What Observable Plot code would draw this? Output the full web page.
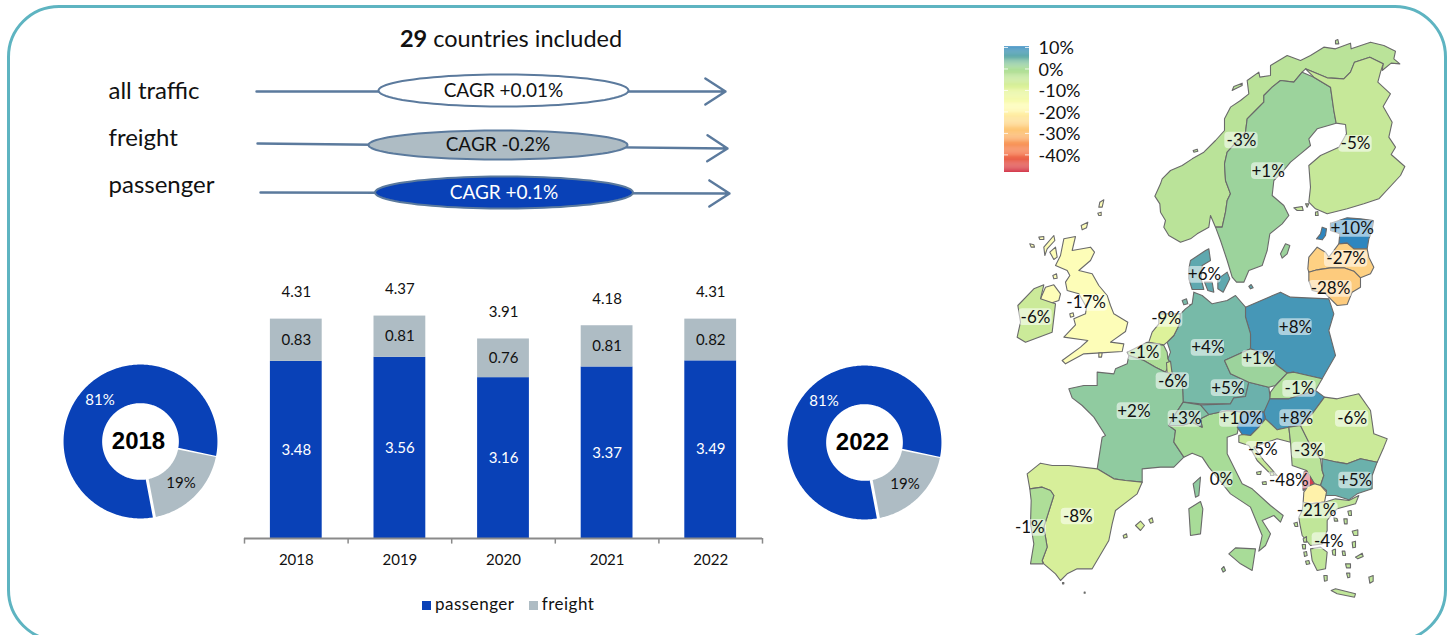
<!DOCTYPE html>
<html>
<head>
<meta charset="utf-8">
<script src="https://cdn.jsdelivr.net/npm/d3@7"></script>
<script src="https://cdn.jsdelivr.net/npm/@observablehq/plot@0.6"></script>
<style>
html,body{margin:0;padding:0;background:#fff;overflow:hidden}
#page{position:relative;width:1453px;height:635px;overflow:hidden;font-family:Lato,sans-serif;color:#111}
#frame{position:absolute;left:7px;top:5px;width:1440px;height:637px;border:3px solid #5eb4c1;border-radius:52px;box-sizing:border-box}
#title{position:absolute;left:311px;width:400px;top:25px;text-align:center;font-size:23.5px;line-height:26px}
#legend{position:absolute;left:422px;top:594px;font-size:17px;line-height:20px;white-space:nowrap;letter-spacing:.5px}
#legend i{display:inline-block;width:9px;height:9px;margin-right:4px}
</style>
</head>
<body>
<div id="page">
<div id="frame"></div>
<div id="title"><b>29</b> countries included</div>
<div id="legend"><i style="background:#0941b7"></i>passenger&nbsp;&nbsp;&nbsp;<i style="background:#aebcc4"></i>freight</div>
</div>
<script>
// ---- data ----
const years = ["2018","2019","2020","2021","2022"];
const passenger = [3.48,3.56,3.16,3.37,3.49];
const freight = [0.83,0.81,0.76,0.81,0.82];
const totals = [4.31,4.37,3.91,4.18,4.31];
const flowNames = ["all traffic","freight","passenger"];
const flowCagr = ["CAGR +0.01%","CAGR -0.2%","CAGR +0.1%"];
const donutYears = ["2018","2022"];
const donutPassenger = [81,81];
const donutFreight = [19,19];
const legendTicks = [10,0,-10,-20,-30,-40];
const BLUE="#0941b7", GREY="#aebcc4", LINE="#5b7a9d";

// country change in %, label text
const change = {NO:-3,SE:1,FI:-5,EE:10,DK:6,LV:-27,LT:-28,UK:-17,IE:-6,NL:-9,PL:8,DE:4,CZ:1,BE:-1,LU:-6,AT:5,SK:-1,FR:2,CH:3,SI:10,HU:8,RO:-6,HR:-5,RS:-3,AL:-48,BG:5,IT:0,MK:-21,ES:-8,PT:-1,GR:-4};
// label anchors in map units
const labelSpots = [["NO",723,330],["SE",803,422],["FI",1065,340],["EE",1055,595],["DK",612,733],["LV",1037,685],["LT",990,775],["UK",257,817],["IE",105,860],["NL",497,865],["PL",885,890],["DE",622,952],["CZ",775,985],["BE",432,965],["LU",517,1052],["AT",682,1073],["SK",897,1075],["FR",400,1142],["CH",553,1165],["SI",722,1165],["HU",888,1163],["RO",1055,1165],["HR",787,1258],["RS",925,1260],["AL",865,1350],["BG",1065,1350],["IT",663,1347],["MK",948,1440],["ES",232,1458],["PT",88,1492],["GR",985,1532]];

// outlines in map units (north part)
const shapesNorth = [
["NO",[[540,635],[505,615],[490,590],[495,570],[480,545],[478,520],[463,497],[480,460],[485,445],[510,420],[545,405],[575,385],[610,365],[645,330],[672,300],[672,265],[690,230],[720,210],[745,190],[740,150],[775,125],[778,140],[810,135],[810,105],[860,75],[900,90],[930,75],[970,50],[1005,55],[1050,38],[1052,55],[1110,35],[1150,45],[1185,62],[1180,85],[1198,100],[1172,98],[1145,120],[1148,100],[1108,80],[1062,95],[1050,125],[1030,145],[980,142],[915,115],[905,125],[880,155],[840,150],[815,170],[790,195],[790,215],[765,240],[740,265],[735,305],[680,365],[672,400],[675,450],[690,490],[680,510],[675,545],[665,590],[645,590],[630,555],[625,590],[590,610],[570,625]]],
["NO",[[695,180],[700,168],[725,158],[725,165],[705,175]]],
["NO",[[578,360],[590,356],[592,362],[580,365]]],
["NO",[[1005,30],[1012,27],[1015,40],[1005,40]]],
["SE",[[905,125],[880,155],[840,150],[815,170],[790,195],[790,215],[765,240],[740,265],[735,305],[680,365],[672,400],[675,450],[690,490],[680,510],[675,545],[665,590],[645,590],[660,630],[680,690],[695,740],[708,755],[730,755],[745,720],[785,705],[800,660],[808,610],[845,580],[865,555],[850,525],[815,495],[820,450],[845,425],[870,395],[900,370],[930,345],[925,325],[950,295],[1007,278],[1000,240],[990,170],[940,140]]],
["SE",[[840,670],[855,640],[868,645],[860,670],[845,683]]],
["FI",[[915,115],[980,142],[1030,145],[1050,125],[1062,95],[1108,80],[1148,100],[1140,125],[1132,155],[1170,190],[1148,228],[1175,275],[1165,320],[1185,350],[1172,372],[1213,408],[1200,435],[1135,505],[1090,520],[1040,535],[980,550],[945,535],[925,515],[930,470],[925,405],[960,375],[1015,350],[1038,310],[1035,282],[1007,278],[1000,240],[990,170],[940,140]]],
["FI",[[880,532],[905,528],[908,540],[890,540]]],
["FI",[[915,520],[925,520],[920,530]]],
["FI",[[945,545],[952,543],[953,555],[945,555]]],
["EE",[[990,578],[1040,562],[1080,565],[1118,570],[1115,600],[1105,625],[1100,655],[1060,655],[1040,638],[1015,640],[1018,610],[990,600]]],
["EE",[[948,625],[960,610],[965,590],[978,595],[975,615],[965,628]]],
["LV",[[922,715],[925,680],[950,650],[975,665],[985,680],[1015,640],[1040,638],[1060,655],[1100,655],[1105,680],[1120,710],[1110,730],[1080,742],[1060,722],[1030,712],[990,712],[950,718],[925,725]]],
["LT",[[925,725],[950,718],[990,712],[1030,712],[1060,722],[1080,742],[1080,770],[1055,785],[1040,822],[1010,825],[990,805],[975,790],[935,780],[925,750]]],
["DK",[[565,715],[570,690],[615,660],[625,655],[630,690],[605,705],[602,745],[610,777],[575,777],[565,745]]],
["DK",[[612,755],[635,755],[640,785],[622,780]]],
["DK",[[652,745],[680,725],[688,745],[668,785],[652,775]]],
["DK",[[745,768],[752,762],[758,772],[750,775]]],
["UK",[[190,625],[225,618],[215,660],[270,650],[282,665],[270,690],[235,720],[275,730],[295,765],[320,795],[330,825],[340,850],[382,875],[375,903],[330,935],[370,940],[365,963],[300,967],[250,970],[195,1000],[185,990],[240,950],[262,930],[190,920],[225,883],[220,865],[255,850],[258,830],[235,790],[200,780],[195,755],[208,735],[200,720],[165,705],[180,675]]],
["UK",[[120,805],[135,770],[160,763],[180,790],[175,810],[155,817],[130,813]]],
["UK",[[130,650],[160,615],[163,630],[140,655],[133,675]]],
["UK",[[148,665],[165,650],[170,680],[160,687]]],
["UK",[[88,640],[100,643],[102,650],[92,650]]],
["UK",[[115,620],[130,618],[130,627],[118,627]]],
["UK",[[298,515],[310,508],[305,530],[295,530]]],
["UK",[[292,548],[302,545],[302,555],[295,555]]],
["UK",[[242,585],[262,575],[258,592],[245,598]]],
["UK",[[157,735],[168,730],[170,743],[160,745]]],
["UK",[[208,850],[218,847],[220,857],[210,860]]],
["UK",[[295,967],[305,967],[303,980],[295,980]]],
["IE",[[52,825],[100,775],[130,763],[120,805],[155,817],[165,820],[155,905],[75,935],[50,920],[60,875]]],
["DE",[[545,810],[558,805],[562,820],[550,823]]],
["DE",[[568,823],[578,820],[575,840],[568,835]]],
];
// outlines in map units (south part)
const shapesSouth = [
["PL",[[735,-10],[840,-55],[870,-40],[985,-35],[1000,10],[985,60],[1005,135],[965,205],[880,185],[860,188],[830,165],[800,135],[750,115],[750,70],[735,20]]],
["DE",[[580,-55],[605,-45],[635,-20],[680,-30],[705,-45],[735,-10],[735,20],[750,70],[750,115],[672,150],[690,190],[745,215],[735,258],[700,262],[690,280],[600,280],[548,275],[545,200],[515,190],[508,157],[502,145],[510,125],[500,95],[520,75],[535,45],[540,10],[555,-5],[575,-20]]],
["NL",[[475,10],[540,10],[535,45],[520,75],[500,95],[490,103],[445,95],[455,65],[475,40]]],
["BE",[[380,125],[440,95],[490,105],[500,125],[502,145],[508,157],[495,185],[465,170],[430,150],[385,135]]],
["LU",[[498,157],[510,152],[515,190],[500,190]]],
["FR",[[205,235],[250,225],[290,225],[290,185],[340,190],[345,175],[380,160],[385,135],[430,150],[465,170],[495,185],[515,190],[545,200],[548,275],[525,310],[505,345],[525,360],[520,395],[550,440],[520,470],[480,470],[425,475],[425,515],[375,510],[340,505],[290,475],[305,380],[315,375],[280,320],[245,285],[215,262]]],
["FR",[[578,520],[600,500],[595,555],[585,560]]],
["ES",[[80,490],[120,458],[155,465],[205,465],[290,475],[340,505],[375,510],[425,515],[410,550],[345,600],[335,640],[325,690],[275,775],[230,775],[200,790],[180,810],[165,790],[130,760],[125,750],[140,710],[130,650],[160,555],[150,540],[125,530],[88,535]]],
["ES",[[405,645],[420,632],[432,645],[420,660]]],
["ES",[[445,628],[455,622],[458,635],[450,638]]],
["ES",[[368,675],[378,670],[380,680],[370,683]]],
["ES",[[186,816],[190,816],[190,820],[186,820]]],
["ES",[[251,845],[254,845],[254,848],[251,848]]],
["PT",[[88,535],[125,530],[150,540],[160,555],[130,650],[140,710],[125,750],[128,760],[90,760],[100,700],[90,640],[92,570]]],
["IT",[[525,360],[505,345],[545,345],[575,335],[605,350],[600,325],[625,312],[680,300],[730,305],[715,345],[710,370],[680,380],[680,430],[705,480],[725,520],[755,535],[810,585],[848,615],[840,635],[820,615],[785,630],[810,670],[795,705],[775,722],[785,675],[750,590],[690,550],[625,470],[605,440],[575,428],[550,440],[520,395]]],
["IT",[[565,595],[600,573],[607,595],[600,670],[570,675]]],
["IT",[[685,730],[705,712],[765,715],[755,780],[720,760]]],
["IT",[[663,775],[670,768],[675,780],[668,785]]],
["CH",[[505,345],[525,310],[548,275],[600,283],[625,312],[600,325],[605,350],[575,335],[545,345],[525,345]]],
["AT",[[600,283],[690,280],[700,262],[735,258],[745,215],[805,230],[810,270],[790,305],[730,305],[680,300],[625,312]]],
["CZ",[[672,150],[750,115],[800,135],[830,165],[860,188],[825,225],[805,230],[745,215],[690,190]]],
["SK",[[810,245],[825,225],[860,188],[880,185],[965,205],[945,240],[865,265],[808,265]]],
["HU",[[790,305],[808,265],[865,265],[945,240],[972,260],[935,310],[900,345],[865,350],[830,358],[795,325]]],
["SI",[[710,350],[730,305],[790,305],[795,325],[775,350],[750,375],[725,372]]],
["HR",[[715,375],[725,372],[750,375],[775,350],[795,325],[830,358],[865,350],[870,395],[830,385],[800,395],[760,410],[790,450],[830,495],[810,490],[770,450],[745,405],[715,395]]],
["RS",[[865,350],[900,345],[925,395],[960,445],[965,480],[970,495],[960,525],[942,520],[918,480],[875,465],[870,395]]],
["RO",[[972,260],[1010,265],[1075,250],[1110,300],[1120,370],[1160,385],[1150,410],[1130,455],[1080,445],[1040,460],[1010,455],[960,445],[925,395],[900,345],[935,310]]],
["BG",[[965,445],[1010,455],[1040,460],[1080,445],[1130,455],[1115,495],[1115,535],[1070,550],[1045,568],[1005,555],[975,555],[978,540],[960,525],[970,495],[965,480]]],
["AL",[[910,485],[918,480],[930,500],[942,520],[922,528],[908,540],[905,515]]],
["MK",[[922,528],[942,520],[960,525],[978,545],[972,575],[930,580],[908,575],[910,545]]],
["GR",[[908,575],[930,580],[972,575],[1005,565],[1045,570],[1075,555],[1065,580],[1035,588],[1010,595],[995,610],[980,630],[980,660],[965,700],[930,705],[905,675],[898,640],[895,620],[905,600]]],
["GR",[[930,715],[960,710],[980,725],[975,775],[950,780],[935,750]]],
["GR",[[992,840],[1005,835],[1065,850],[1062,860],[1010,850]]],
];
// small islands, Aegean and Adriatic
const shapesIslands = [
["GR",[[220,308],[230,305],[232,318],[224,318]]],
["GR",[[248,355],[258,348],[258,365],[250,365]]],
["GR",[[245,372],[255,372],[255,385],[247,385]]],
["GR",[[250,395],[258,393],[260,405],[252,408]]],
["GR",[[255,422],[265,420],[268,430],[258,432]]],
["GR",[[310,465],[320,465],[320,480],[312,482]]],
["GR",[[375,430],[390,430],[390,442],[378,442]]],
["GR",[[378,458],[388,458],[388,470],[382,472]]],
["GR",[[405,410],[425,398],[428,408],[412,415]]],
["GR",[[395,365],[405,362],[405,380],[397,382]]],
["GR",[[395,332],[412,328],[412,345],[400,345]]],
["GR",[[370,295],[380,295],[380,310],[372,310]]],
["GR",[[382,272],[392,270],[393,285],[385,285]]],
["GR",[[340,290],[350,295],[352,302],[342,302]]],
["GR",[[445,470],[458,465],[458,482],[448,488]]],
["GR",[[365,392],[373,392],[375,405],[367,405]]],
["GR",[[335,390],[345,385],[345,405],[337,403]]],
["HR",[[108,155],[122,152],[120,162],[110,162]]],
["HR",[[125,185],[137,183],[138,192],[127,192]]],
["HR",[[150,155],[158,155],[160,165],[150,165]]],
];

// ---- helpers ----
const page = document.getElementById("page");
const place = (svg,left,top)=>{svg.style.position="absolute";svg.style.left=left+"px";svg.style.top=top+"px";svg.style.background="transparent";svg.style.overflow="visible";svg.style.maxWidth="none";page.appendChild(svg);};
const FONT="Lato, sans-serif";

// ---- CAGR arrows ----
const flowLayout = [
 {x1:256,y1:91,x2:725,y2:91,cx:503,cy:90,rx:125,ry:16,fill:"#ffffff",ink:"#111111",nameY:91},
 {x1:257,y1:143,x2:727,y2:148,cx:497.5,cy:144.5,rx:129.5,ry:14.5,fill:GREY,ink:"#111111",nameY:138},
 {x1:260,y1:192,x2:729,y2:193,cx:503.5,cy:192,rx:129,ry:16,fill:BLUE,ink:"#ffffff",nameY:185}
];
const flowRows = flowLayout.map((d,i)=>({...d,name:flowNames[i],cagr:flowCagr[i]}));
const ellipsePts = flowRows.flatMap((d,i)=>d3.range(0,361,4).map(a=>({i,fill:d.fill,x:d.cx+d.rx*Math.cos(a*Math.PI/180),y:d.cy+d.ry*Math.sin(a*Math.PI/180)})));
place(Plot.plot({
  width:800,height:230,margin:0,style:{fontFamily:FONT},
  x:{domain:[0,800],axis:null},y:{domain:[0,230],range:[0,230],axis:null},
  marks:[
    Plot.arrow(flowRows,{x1:"x1",y1:"y1",x2:"x2",y2:"y2",stroke:LINE,strokeWidth:2.4,headLength:15,headAngle:66}),
    Plot.line(ellipsePts,{x:"x",y:"y",z:"i",fill:"fill",stroke:LINE,strokeWidth:2}),
    Plot.text(flowRows,{x:"cx",y:"cy",text:"cagr",fill:"ink",fontSize:19}),
    Plot.text(flowRows,{x:()=>108,y:"nameY",text:"name",textAnchor:"start",fontSize:24,fill:"#111"})
  ]
}),0,0);

// ---- stacked bars ----
const barTable = years.flatMap((y,i)=>[
  {year:y,series:"passenger",value:passenger[i],ink:"#ffffff"},
  {year:y,series:"freight",value:freight[i],ink:"#111111"}]);
const totalTable = years.map((y,i)=>({year:y,total:totals[i]}));
const barW=518, step=barW/years.length;
place(Plot.plot({
  width:barW,height:305,marginLeft:0,marginRight:0,marginTop:0,marginBottom:37,style:{fontFamily:FONT},
  x:{domain:years,paddingInner:.5,paddingOuter:.25,round:false,label:null},
  y:{domain:[0,268/50.9],axis:null},
  color:{domain:["passenger","freight"],range:[BLUE,GREY]},
  marks:[
    Plot.barY(barTable,{x:"year",y:"value",fill:"series"}),
    Plot.text(barTable,Plot.stackY({x:"year",y:"value",text:d=>d.value.toFixed(2),fill:"ink",fontSize:15})),
    Plot.text(totalTable,{x:"year",y:"total",text:d=>d.total.toFixed(2),dy:-27,fontSize:15,fill:"#111"}),
    Plot.ruleY([0],{stroke:"#8a8a8a",strokeWidth:2}),
    Plot.ruleX(years,{x:d=>d,dx:-step/2,y1:0,y2:-0.11,stroke:"#8a8a8a",strokeWidth:1.5}),
    Plot.ruleX(years.slice(-1),{x:d=>d,dx:step/2,y1:0,y2:-0.11,stroke:"#8a8a8a",strokeWidth:1.5}),
    Plot.axisX({tickSize:0,tickPadding:16,fontSize:15,label:null,fill:"#111"})
  ]
}),244,270);

// ---- donuts ----
const START=170, INNER=.47;
function ring(a0,a1,key,fill){
  const pts=[]; const rad=a=>a*Math.PI/180;
  for(const a of d3.range(a0,a1+.5,1)) pts.push({key,fill,x:Math.sin(rad(a)),y:Math.cos(rad(a))});
  for(const a of d3.range(a1,a0-.5,-1)) pts.push({key,fill,x:INNER*Math.sin(rad(a)),y:INNER*Math.cos(rad(a))});
  return pts;
}
function donut(i,left,top){
  const p=donutPassenger[i],f=donutFreight[i],T=p+f;
  const pa=p/T*360, fa=f/T*360;
  const slices=[...ring(START,START+pa,"p",BLUE),...ring(START+pa,START+pa+fa,"f",GREY)];
  const mid=[{a:START+pa/2,t:p+"%",ink:"#fff"},{a:START+pa+fa/2,t:f+"%",ink:"#111"}]
    .map(d=>({...d,x:.74*Math.sin(d.a*Math.PI/180),y:.74*Math.cos(d.a*Math.PI/180)}));
  place(Plot.plot({
    width:160,height:160,margin:0,style:{fontFamily:FONT},
    x:{domain:[-1.02,1.02],axis:null},y:{domain:[-1.02,1.02],axis:null},
    marks:[
      Plot.line(slices,{x:"x",y:"y",z:"key",fill:"fill",stroke:"#fff",strokeWidth:3}),
      Plot.text(mid,{x:"x",y:"y",text:"t",fill:"ink",fontSize:15}),
      Plot.text([donutYears[i]],{x:()=>0,y:()=>0,text:d=>d,fontSize:24,fontWeight:"bold",fontFamily:"Liberation Sans",fill:"#000",dx:-2})
    ]
  }),left,top);
}
donut(0,60,361);
donut(1,783.5,362);

// ---- map ----
const toRows=(list,dx,dy,tag)=>list.flatMap(([c,pts],k)=>pts.concat([pts[0]]).map(([x,y])=>({id:tag+k,c,v:change[c],x:x+dx,y:y+dy})));
const mapRows=[...toRows(shapesNorth,0,0,"n"),...toRows(shapesSouth,0,840,"s"),...toRows(shapesIslands,660,1170,"i")];
const labels=labelSpots.map(([c,x,y])=>{const v=change[c];const t=(v>0?"+":"")+v+"%";const w=(10+30*t.length)/2;return {t,x,y,x1:x-w,x2:x+w,y1:y-25,y2:y+25};});
const colorScale={type:"linear",domain:[-48,-40,-30,-20,-17,-10,0,10],range:["#d53e4f","#f4734a","#fdc070","#fff7b0","#fdfdb8","#e3f49a","#a8dc98","#2e86bf"],clamp:true};
place(Plot.plot({
  width:410,height:600,margin:0,style:{fontFamily:FONT},
  x:{domain:[0,1230],axis:null},y:{domain:[0,1800],range:[0,600],axis:null},
  color:colorScale,
  marks:[
    Plot.line(mapRows,{x:"x",y:"y",z:"id",fill:"v",stroke:"#6a6a6a",strokeWidth:1.1,strokeLinejoin:"round"}),
    Plot.rect(labels,{x1:"x1",x2:"x2",y1:"y1",y2:"y2",fill:"#fff",fillOpacity:.55,rx:4}),
    Plot.text(labels,{x:"x",y:"y",text:"t",fontSize:17,fill:"#111"})
  ]
}),1000,30);

// ---- colour legend ----
const legendSteps=d3.range(-48.2,10,.5);
place(Plot.plot({
  width:100,height:125,margin:0,marginRight:75,style:{fontFamily:FONT},
  x:{domain:[0,1],axis:null},y:{domain:[-48.2,10],axis:null},
  color:colorScale,
  marks:[
    Plot.rect(legendSteps,{x1:()=>0,x2:()=>1,y1:d=>d,y2:d=>d+.55,fill:d=>d}),
    Plot.ruleY(legendTicks,{x1:()=>0,x2:()=>.16,y:d=>d,stroke:"#fff",strokeOpacity:.8}),
    Plot.ruleY(legendTicks,{x1:()=>.84,x2:()=>1,y:d=>d,stroke:"#fff",strokeOpacity:.8}),
    Plot.text(legendTicks,{x:()=>1,y:d=>d,dx:9,dy:1,text:d=>d+"%",textAnchor:"start",fontSize:18,fill:"#111"})
  ]
}),1004,47);
</script>
</body>
</html>
